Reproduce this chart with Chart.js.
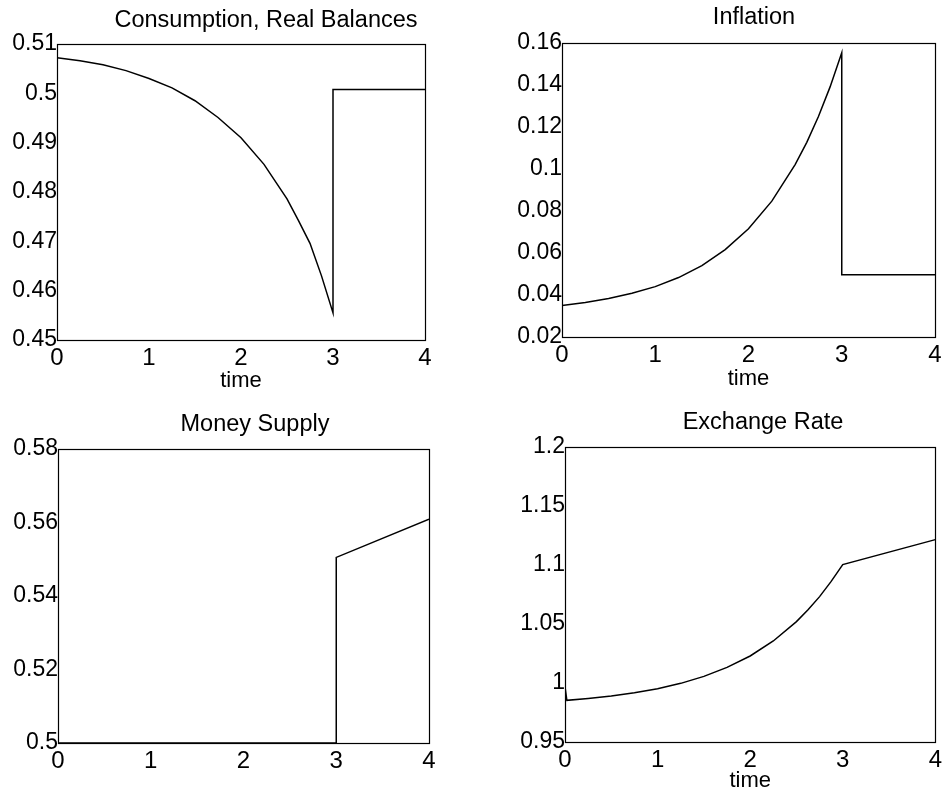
<!DOCTYPE html>
<html><head><meta charset="utf-8">
<script src="https://cdn.jsdelivr.net/npm/chart.js@4.4.1/dist/chart.umd.min.js"></script>
<style>
html,body{margin:0;padding:0;background:#fff;}
body{width:946px;height:798px;position:relative;overflow:hidden;}
canvas{position:absolute;}
</style></head><body>
<canvas id="c1" width="473" height="400" style="left:0;top:0"></canvas>
<canvas id="c2" width="473" height="400" style="left:473px;top:0"></canvas>
<canvas id="c3" width="473" height="398" style="left:0;top:400px"></canvas>
<canvas id="c4" width="473" height="398" style="left:473px;top:400px"></canvas>
<script>
// ---- data ----
const timeGrid = [0, 0.25, 0.5, 0.75, 1, 1.25, 1.5, 1.75, 2, 2.25, 2.5, 2.625, 2.75, 2.875, 3];
const consumptionPath = [0.5072, 0.5066, 0.5058, 0.5046, 0.5030, 0.5011, 0.4985, 0.4951, 0.4910, 0.4856, 0.4786, 0.4742, 0.4696, 0.4630, 0.4555];
const afterTimes = [3, 4];
const consumptionAfter = [0.5008, 0.5008];

const inflationPath = [0.0350, 0.0364, 0.0383, 0.0408, 0.0440, 0.0483, 0.0540, 0.0616, 0.0715, 0.0847, 0.1021, 0.1127, 0.1250, 0.1391, 0.1554];
const inflationAfter = [0.0497, 0.0497];

const moneyTimes = [0, 3];
const moneyPath = [0.5, 0.5];
const moneyAfter = [0.5505, 0.5609];

const exchangeTimes = [0, 0.02, 0.25, 0.5, 0.75, 1, 1.25, 1.5, 1.75, 2, 2.25, 2.5, 2.625, 2.75, 2.875, 3];
const exchangePath = [0.9970, 0.9853, 0.9869, 0.9890, 0.9917, 0.9952, 0.9997, 1.0056, 1.0132, 1.0229, 1.0356, 1.0520, 1.0620, 1.0732, 1.0861, 1.1003];
const exchangeAfter = [1.1003, 1.1215];

const xTicks = [0, 1, 2, 3, 4];
const yTicksConsumption = [0.45, 0.46, 0.47, 0.48, 0.49, 0.5, 0.51];
const yTicksInflation = [0.02, 0.04, 0.06, 0.08, 0.1, 0.12, 0.14, 0.16];
const yTicksMoney = [0.5, 0.52, 0.54, 0.56, 0.58];
const yTicksExchange = [0.95, 1, 1.05, 1.1, 1.15, 1.2];

const titles = ['Consumption, Real Balances', 'Inflation', 'Money Supply', 'Exchange Rate'];
const xLabel = 'time';

// ---- drawing ----
const FAMILY = '"Liberation Sans", Arial, Helvetica, sans-serif';
Chart.defaults.color = '#000';
Chart.defaults.font.family = FAMILY;

const panelDecor = {
  id: 'panelDecor',
  afterDraw(chart, args, opts) {
    const {ctx, chartArea: a} = chart;
    ctx.save();
    ctx.strokeStyle = '#000';
    ctx.lineWidth = 1.2;
    ctx.strokeRect(Math.round(a.left) + 0.5, Math.round(a.top) + 0.5,
                   Math.round(a.right - a.left), Math.round(a.bottom - a.top));
    ctx.fillStyle = '#000';
    ctx.font = '23.5px ' + FAMILY;
    ctx.textAlign = 'center';
    ctx.textBaseline = 'middle';
    ctx.fillText(opts.text, opts.x, opts.y);
    ctx.restore();
  }
};

function pts(ts, vs) { return ts.map((t, i) => ({x: t, y: vs[i]})); }

function makePanel(id, segs, yTicks, title, L) {
  let data = [];
  segs.forEach(s => { data = data.concat(pts(s[0], s[1])); });
  new Chart(document.getElementById(id), {
    type: 'line',
    data: {
      datasets: [{
        data: data,
        borderColor: '#000', borderWidth: 1.5,
        pointRadius: 0, tension: 0, fill: false
      }]
    },
    options: {
      responsive: false, animation: false, events: [],
      layout: {padding: {left: 0, top: L.top, right: L.right, bottom: L.bottom}},
      plugins: {
        legend: {display: false}, tooltip: {enabled: false},
        panelDecor: {text: title, x: L.tx, y: L.ty}
      },
      scales: {
        x: {
          type: 'linear', min: 0, max: 4,
          afterBuildTicks: s => { s.ticks = xTicks.map(v => ({value: v})); },
          ticks: {padding: 4, font: {size: 24}, color: '#000', maxRotation: 0, autoSkip: false,
                  callback: v => String(v)},
          grid: {display: false, drawTicks: false},
          border: {display: false},
          title: {display: L.time, text: xLabel, color: '#000', font: {size: 22},
                  padding: {top: 0, bottom: L.pb}},
          afterFit: s => { s.height = L.xh; }
        },
        y: {
          type: 'linear', min: yTicks[0], max: yTicks[yTicks.length - 1],
          afterBuildTicks: s => { s.ticks = yTicks.map(v => ({value: v})); },
          ticks: {padding: 0, font: {size: 23}, color: '#000', autoSkip: false,
                  callback: v => String(v)},
          grid: {display: false, drawTicks: false},
          border: {display: false},
          afterFit: s => { s.width = L.yw; }
        }
      }
    },
    plugins: [panelDecor]
  });
}

makePanel('c1', [[timeGrid, consumptionPath], [afterTimes, consumptionAfter]], yTicksConsumption, titles[0],
  {yw: 57, top: 44, right: 48, bottom: 0, xh: 60, pb: 6, time: true, tx: 266, ty: 21});
makePanel('c2', [[timeGrid, inflationPath], [afterTimes, inflationAfter]], yTicksInflation, titles[1],
  {yw: 89, top: 43, right: 11, bottom: 3, xh: 60, pb: 5, time: true, tx: 281, ty: 18});
makePanel('c3', [[moneyTimes, moneyPath], [afterTimes, moneyAfter]], yTicksMoney, titles[2],
  {yw: 58, top: 49, right: 44, bottom: 0, xh: 55, pb: 0, time: false, tx: 255, ty: 25});
makePanel('c4', [[exchangeTimes, exchangePath], [afterTimes, exchangeAfter]], yTicksExchange, titles[3],
  {yw: 92, top: 47, right: 10, bottom: 0, xh: 56, pb: 4, time: true, tx: 290, ty: 23});
</script>
</body></html>
